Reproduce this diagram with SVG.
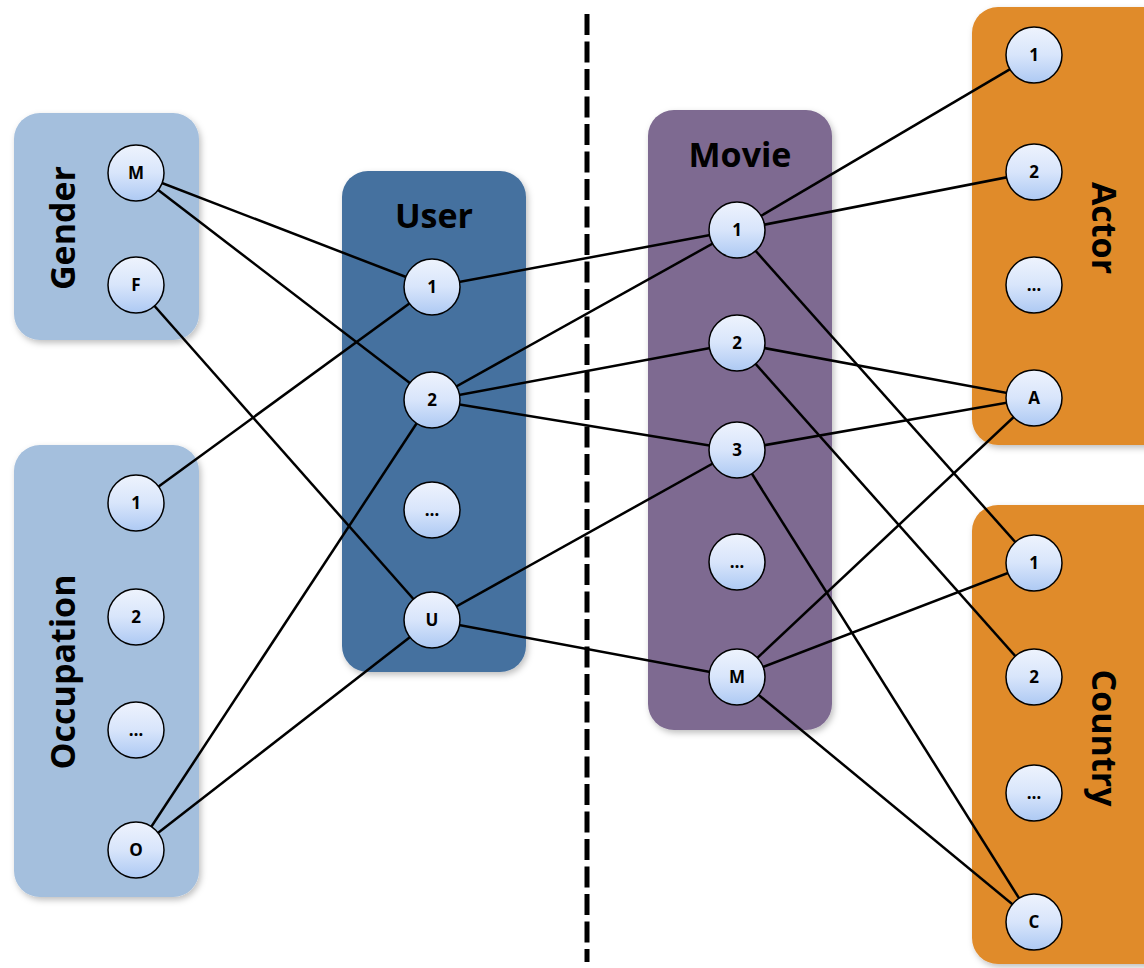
<svg xmlns="http://www.w3.org/2000/svg" width="1144" height="968" viewBox="0 0 1144 968">
<defs>
<linearGradient id="ng" x1="0" y1="0" x2="0" y2="1">
<stop offset="0" stop-color="#eef3fd"/>
<stop offset="0.5" stop-color="#d8e5fb"/>
<stop offset="1" stop-color="#adc9f3"/>
</linearGradient>
<filter id="sh" x="-10%" y="-10%" width="130%" height="130%">
<feDropShadow dx="2" dy="3" stdDeviation="3" flood-color="#000" flood-opacity="0.25"/>
</filter>
</defs>
<style>
.box{filter:url(#sh)}
.lb{fill:#a4bfdd}
.ub{fill:#45719f}
.mb{fill:#7e6a91}
.ob{fill:#e08b2b}
.n circle{fill:url(#ng);stroke:#000;stroke-width:1.5}
.n text{font-family:"Open Sans","Liberation Sans",sans-serif;font-weight:bold;font-size:17px;text-anchor:middle;fill:#000}
.t{font-family:"Open Sans","Liberation Sans",sans-serif;font-weight:bold;font-size:34px;text-anchor:middle;fill:#000}
#edges line{stroke:#000;stroke-width:2.5}
</style>
<rect width="1144" height="968" fill="#fff"/>

<line x1="587" y1="14" x2="587" y2="962" stroke="#000" stroke-width="5" stroke-dasharray="21 6.5"/>

<g id="gender">
<rect class="box lb" x="14" y="113" width="185" height="227" rx="26"/>
<text class="t" transform="translate(75,228) rotate(-90)">Gender</text>
</g>
<g id="occupation">
<rect class="box lb" x="14" y="445" width="185" height="452" rx="26"/>
<text class="t" transform="translate(75,672) rotate(-90)">Occupation</text>
</g>
<g id="user">
<rect class="box ub" x="342" y="171" width="184" height="501" rx="26"/>
<text class="t" x="434" y="228">User</text>
</g>
<g id="movie">
<rect class="box mb" x="648" y="110" width="184" height="620" rx="26"/>
<text class="t" x="740" y="167">Movie</text>
</g>
<g id="actor">
<rect class="box ob" x="972" y="7" width="200" height="438" rx="26"/>
<text class="t" transform="translate(1092,228) rotate(90)">Actor</text>
</g>
<g id="country">
<rect class="box ob" x="972" y="505" width="200" height="459" rx="26"/>
<text class="t" transform="translate(1092,738) rotate(90)">Country</text>
</g>

<g id="edges">
<line x1="136" y1="173" x2="432" y2="287"/>
<line x1="136" y1="173" x2="432" y2="400"/>
<line x1="136" y1="285" x2="432" y2="620"/>
<line x1="136" y1="503" x2="432" y2="287"/>
<line x1="136" y1="850" x2="432" y2="400"/>
<line x1="136" y1="850" x2="432" y2="620"/>
<line x1="432" y1="287" x2="737" y2="230"/>
<line x1="432" y1="400" x2="737" y2="230"/>
<line x1="432" y1="400" x2="737" y2="343"/>
<line x1="432" y1="400" x2="737" y2="450"/>
<line x1="432" y1="620" x2="737" y2="450"/>
<line x1="432" y1="620" x2="737" y2="677"/>
<line x1="737" y1="230" x2="1034" y2="55"/>
<line x1="737" y1="230" x2="1034" y2="172"/>
<line x1="737" y1="230" x2="1034" y2="563"/>
<line x1="737" y1="343" x2="1034" y2="398"/>
<line x1="737" y1="343" x2="1034" y2="677"/>
<line x1="737" y1="450" x2="1034" y2="398"/>
<line x1="737" y1="450" x2="1034" y2="922"/>
<line x1="737" y1="677" x2="1034" y2="398"/>
<line x1="737" y1="677" x2="1034" y2="563"/>
<line x1="737" y1="677" x2="1034" y2="922"/>
</g>

<g id="g-m" class="n"><circle cx="136" cy="173" r="28"/><text x="136" y="179">M</text></g>
<g id="g-f" class="n"><circle cx="136" cy="285" r="28"/><text x="136" y="291">F</text></g>
<g id="o-1" class="n"><circle cx="136" cy="503" r="28"/><text x="136" y="509">1</text></g>
<g id="o-2" class="n"><circle cx="136" cy="617" r="28"/><text x="136" y="623">2</text></g>
<g id="o-dots" class="n"><circle cx="136" cy="730" r="28"/><text x="136" y="736">…</text></g>
<g id="o-o" class="n"><circle cx="136" cy="850" r="28"/><text x="136" y="856">O</text></g>

<g id="u-1" class="n"><circle cx="432" cy="287" r="28"/><text x="432" y="293">1</text></g>
<g id="u-2" class="n"><circle cx="432" cy="400" r="28"/><text x="432" y="406">2</text></g>
<g id="u-dots" class="n"><circle cx="432" cy="510" r="28"/><text x="432" y="516">…</text></g>
<g id="u-u" class="n"><circle cx="432" cy="620" r="28"/><text x="432" y="626">U</text></g>

<g id="m-1" class="n"><circle cx="737" cy="230" r="28"/><text x="737" y="236">1</text></g>
<g id="m-2" class="n"><circle cx="737" cy="343" r="28"/><text x="737" y="349">2</text></g>
<g id="m-3" class="n"><circle cx="737" cy="450" r="28"/><text x="737" y="456">3</text></g>
<g id="m-dots" class="n"><circle cx="737" cy="562" r="28"/><text x="737" y="568">…</text></g>
<g id="m-m" class="n"><circle cx="737" cy="677" r="28"/><text x="737" y="683">M</text></g>

<g id="a-1" class="n"><circle cx="1034" cy="55" r="28"/><text x="1034" y="61">1</text></g>
<g id="a-2" class="n"><circle cx="1034" cy="172" r="28"/><text x="1034" y="178">2</text></g>
<g id="a-dots" class="n"><circle cx="1034" cy="285" r="28"/><text x="1034" y="291">…</text></g>
<g id="a-a" class="n"><circle cx="1034" cy="398" r="28"/><text x="1034" y="404">A</text></g>

<g id="c-1" class="n"><circle cx="1034" cy="563" r="28"/><text x="1034" y="569">1</text></g>
<g id="c-2" class="n"><circle cx="1034" cy="677" r="28"/><text x="1034" y="683">2</text></g>
<g id="c-dots" class="n"><circle cx="1034" cy="793" r="28"/><text x="1034" y="799">…</text></g>
<g id="c-c" class="n"><circle cx="1034" cy="922" r="28"/><text x="1034" y="928">C</text></g>
</svg>
